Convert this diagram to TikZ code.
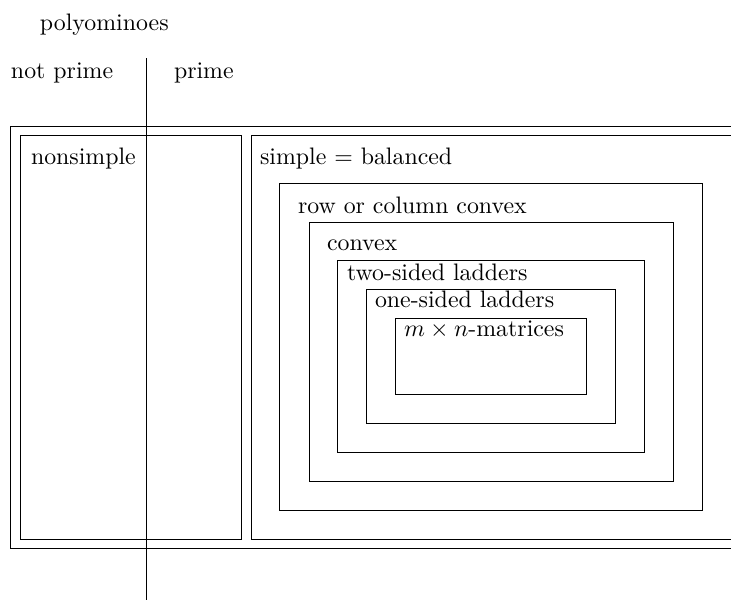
\documentclass[tikz,border=0pt]{standalone}
\usepackage{amsmath,amssymb}
\usepackage{tikz}

\tikzset{
  region/.style={draw, line width=0.4pt},
  regionlabel/.style={anchor=base west, inner sep=0pt, outer sep=0pt}
}

\begin{document}
\begin{tikzpicture}[x=0.4193pt, y=-0.4193pt]

\useasboundingbox (0,0) rectangle (731,600);
\clip (0,0) rectangle (731,600);

\node[regionlabel] (poly) at (40,30) {polyominoes};
\node[regionlabel] (notprime) at (11,78) {not prime};
\node[regionlabel] (prime) at (174,78) {prime};

\draw[region] (146,58) -- (146,600);

\draw[region] (10,126) rectangle (745,548);
\draw[region] (20,135) rectangle (241,539);
\draw[region] (251,135) rectangle (740,539);
\draw[region] (279,183) rectangle (702,510);
\draw[region] (309,222) rectangle (673,481);
\draw[region] (337,260) rectangle (644,452);
\draw[region] (366,289) rectangle (615,423);
\draw[region] (395,318) rectangle (586,394);

\node[regionlabel] (nonsimple) at (31,164) {nonsimple};
\node[regionlabel] (simple) at (260,164) {simple $=$ balanced};
\node[regionlabel] (rowcol) at (298,213) {row or column convex};
\node[regionlabel] (convex) at (327,250) {convex};
\node[regionlabel] (twosided) at (347,280) {two-sided ladders};
\node[regionlabel] (onesided) at (375,307) {one-sided ladders};
\node[regionlabel] (matrices) at (404,336) {$m\times n$-matrices};

\end{tikzpicture}
\end{document}
